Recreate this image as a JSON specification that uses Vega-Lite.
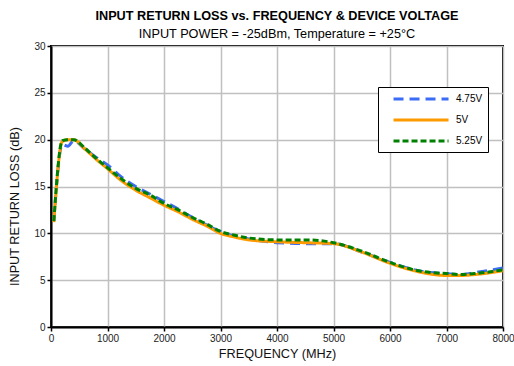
{
  "$schema": "https://vega.github.io/schema/vega-lite/v6.json",
  "autosize": {"type": "none"},
  "padding": {"left": 51, "top": 46, "right": 11, "bottom": 39},
  "width": 452,
  "height": 281,
  "background": "white",
  "config": {
    "font": "Liberation Sans",
    "view": {"stroke": "black", "strokeWidth": 2},
    "axis": {
      "domainColor": "black", "domainWidth": 2,
      "tickColor": "black", "tickSize": 4, "tickWidth": 1.5,
      "gridColor": "#c0c0c0", "gridWidth": 1.5,
      "labelFont": "Liberation Sans", "labelFontSize": 10, "labelColor": "#222",
      "titleFont": "Liberation Sans", "titleFontSize": 12.7, "titleFontWeight": "normal", "titleColor": "#111"
    }
  },
  "title": {
    "text": "INPUT RETURN LOSS vs. FREQUENCY & DEVICE VOLTAGE",
    "subtitle": "INPUT POWER = -25dBm, Temperature = +25°C",
    "anchor": "middle",
    "font": "Liberation Sans",
    "fontSize": 12.7,
    "fontWeight": "bold",
    "color": "black",
    "subtitleFont": "Liberation Sans",
    "subtitleFontSize": 12.7,
    "subtitleColor": "black",
    "subtitlePadding": 6,
    "offset": 0
  },
  "data": {
    "values": [
      {"freq": 50, "series": "4.75V", "loss": 11.3},
      {"freq": 200, "series": "4.75V", "loss": 19.5},
      {"freq": 300, "series": "4.75V", "loss": 19.3},
      {"freq": 400, "series": "4.75V", "loss": 19.9},
      {"freq": 600, "series": "4.75V", "loss": 19.0},
      {"freq": 800, "series": "4.75V", "loss": 18.1},
      {"freq": 1000, "series": "4.75V", "loss": 17.3},
      {"freq": 1250, "series": "4.75V", "loss": 16.0},
      {"freq": 1500, "series": "4.75V", "loss": 15.0},
      {"freq": 1750, "series": "4.75V", "loss": 14.2},
      {"freq": 2000, "series": "4.75V", "loss": 13.4},
      {"freq": 2250, "series": "4.75V", "loss": 12.6},
      {"freq": 2500, "series": "4.75V", "loss": 11.7},
      {"freq": 2750, "series": "4.75V", "loss": 10.9},
      {"freq": 3000, "series": "4.75V", "loss": 10.2},
      {"freq": 3250, "series": "4.75V", "loss": 9.7},
      {"freq": 3500, "series": "4.75V", "loss": 9.4},
      {"freq": 4000, "series": "4.75V", "loss": 9.0},
      {"freq": 4500, "series": "4.75V", "loss": 8.9},
      {"freq": 5000, "series": "4.75V", "loss": 8.9},
      {"freq": 5500, "series": "4.75V", "loss": 8.0},
      {"freq": 6000, "series": "4.75V", "loss": 6.9},
      {"freq": 6500, "series": "4.75V", "loss": 6.0},
      {"freq": 7000, "series": "4.75V", "loss": 5.7},
      {"freq": 7250, "series": "4.75V", "loss": 5.6},
      {"freq": 7500, "series": "4.75V", "loss": 5.8},
      {"freq": 8000, "series": "4.75V", "loss": 6.3},
      {"freq": 50, "series": "5V", "loss": 11.2},
      {"freq": 200, "series": "5V", "loss": 19.8},
      {"freq": 300, "series": "5V", "loss": 20.0},
      {"freq": 400, "series": "5V", "loss": 20.0},
      {"freq": 600, "series": "5V", "loss": 19.0},
      {"freq": 800, "series": "5V", "loss": 17.9},
      {"freq": 1000, "series": "5V", "loss": 16.9},
      {"freq": 1250, "series": "5V", "loss": 15.6},
      {"freq": 1500, "series": "5V", "loss": 14.6},
      {"freq": 1750, "series": "5V", "loss": 13.8},
      {"freq": 2000, "series": "5V", "loss": 13.0},
      {"freq": 2250, "series": "5V", "loss": 12.3},
      {"freq": 2500, "series": "5V", "loss": 11.5},
      {"freq": 2750, "series": "5V", "loss": 10.8},
      {"freq": 3000, "series": "5V", "loss": 10.0},
      {"freq": 3250, "series": "5V", "loss": 9.6},
      {"freq": 3500, "series": "5V", "loss": 9.3},
      {"freq": 4000, "series": "5V", "loss": 9.1},
      {"freq": 4500, "series": "5V", "loss": 9.0},
      {"freq": 5000, "series": "5V", "loss": 8.9},
      {"freq": 5500, "series": "5V", "loss": 8.0},
      {"freq": 6000, "series": "5V", "loss": 6.8},
      {"freq": 6500, "series": "5V", "loss": 5.9},
      {"freq": 7000, "series": "5V", "loss": 5.5},
      {"freq": 7250, "series": "5V", "loss": 5.5},
      {"freq": 7500, "series": "5V", "loss": 5.6},
      {"freq": 8000, "series": "5V", "loss": 6.0},
      {"freq": 50, "series": "5.25V", "loss": 11.3},
      {"freq": 200, "series": "5.25V", "loss": 19.9},
      {"freq": 300, "series": "5.25V", "loss": 20.0},
      {"freq": 400, "series": "5.25V", "loss": 20.0},
      {"freq": 600, "series": "5.25V", "loss": 19.1},
      {"freq": 800, "series": "5.25V", "loss": 18.0},
      {"freq": 1000, "series": "5.25V", "loss": 17.0},
      {"freq": 1250, "series": "5.25V", "loss": 15.8},
      {"freq": 1500, "series": "5.25V", "loss": 14.8},
      {"freq": 1750, "series": "5.25V", "loss": 14.1},
      {"freq": 2000, "series": "5.25V", "loss": 13.2},
      {"freq": 2250, "series": "5.25V", "loss": 12.5},
      {"freq": 2500, "series": "5.25V", "loss": 11.7},
      {"freq": 2750, "series": "5.25V", "loss": 11.0},
      {"freq": 3000, "series": "5.25V", "loss": 10.2},
      {"freq": 3250, "series": "5.25V", "loss": 9.8},
      {"freq": 3500, "series": "5.25V", "loss": 9.5},
      {"freq": 4000, "series": "5.25V", "loss": 9.3},
      {"freq": 4500, "series": "5.25V", "loss": 9.3},
      {"freq": 5000, "series": "5.25V", "loss": 9.0},
      {"freq": 5500, "series": "5.25V", "loss": 8.1},
      {"freq": 6000, "series": "5.25V", "loss": 6.9},
      {"freq": 6500, "series": "5.25V", "loss": 6.0},
      {"freq": 7000, "series": "5.25V", "loss": 5.7},
      {"freq": 7250, "series": "5.25V", "loss": 5.6},
      {"freq": 7500, "series": "5.25V", "loss": 5.7},
      {"freq": 8000, "series": "5.25V", "loss": 6.1}
    ]
  },
  "mark": {"type": "line", "interpolate": "monotone", "clip": true},
  "encoding": {
    "x": {
      "field": "freq", "type": "quantitative",
      "scale": {"domain": [0, 8000], "nice": false},
      "axis": {"values": [0, 1000, 2000, 3000, 4000, 5000, 6000, 7000, 8000], "format": "d", "title": "FREQUENCY (MHz)", "titlePadding": 4, "labelFlush": false}
    },
    "y": {
      "field": "loss", "type": "quantitative",
      "scale": {"domain": [0, 30], "nice": false},
      "axis": {"values": [0, 5, 10, 15, 20, 25, 30], "format": "d", "title": "INPUT RETURN LOSS (dB)", "titlePadding": 12, "titleY": 160, "labelFlush": false}
    },
    "color": {
      "field": "series", "type": "nominal",
      "scale": {"domain": ["4.75V", "5V", "5.25V"], "range": ["#3b6cf5", "#ff9900", "#008000"]},
      "legend": {
        "title": null, "orient": "none", "legendX": 327, "legendY": 41,
        "strokeColor": "black", "fillColor": "white", "padding": 5,
        "symbolType": "M0.64,0H10.64", "symbolSize": 121, "symbolStrokeWidth": 2.5,
        "rowPadding": 8, "labelFontSize": 10, "labelColor": "black", "labelOffset": 59,
        "labelExpr": "datum.label + '      '",
        "offset": 0
      }
    },
    "strokeDash": {
      "field": "series", "type": "nominal",
      "scale": {"domain": ["4.75V", "5V", "5.25V"], "range": [[10, 6], [1, 0], [6, 3]]}
    },
    "strokeWidth": {
      "field": "series", "type": "nominal",
      "scale": {"domain": ["4.75V", "5V", "5.25V"], "range": [3, 3, 3.5]},
      "legend": null
    }
  }
}
